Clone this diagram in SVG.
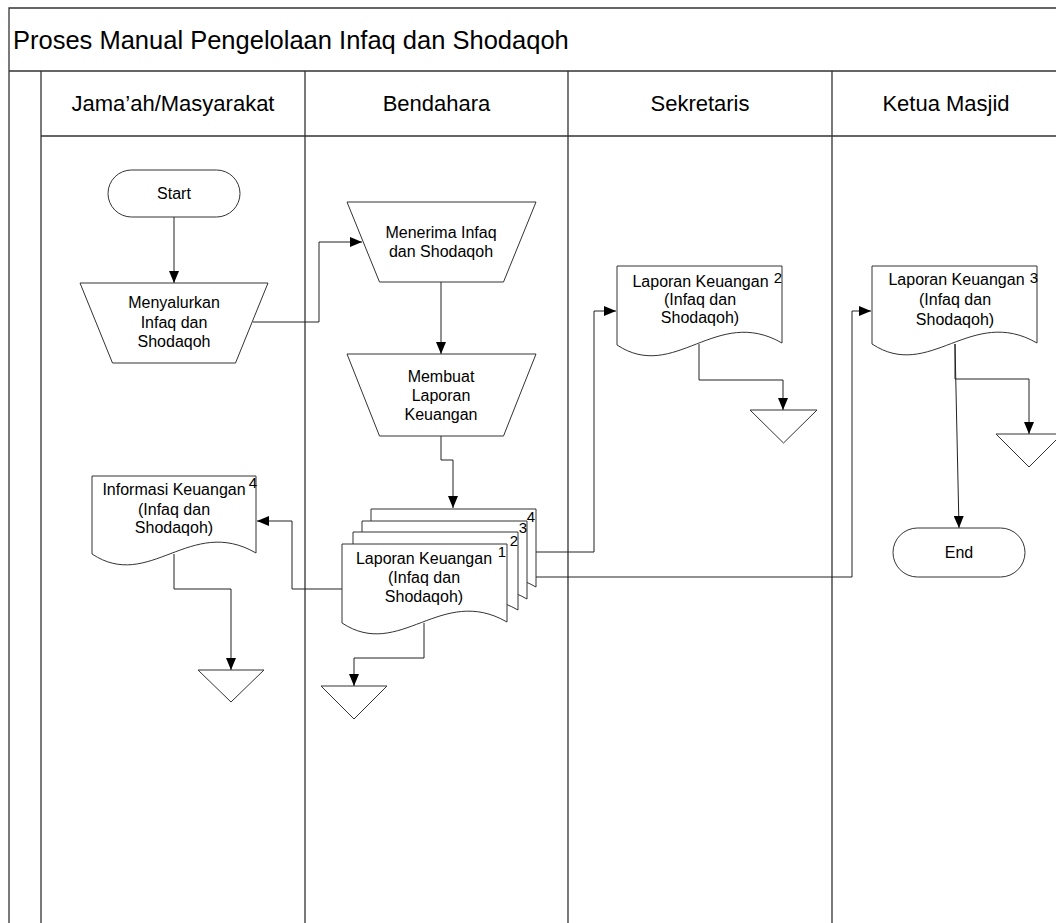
<svg xmlns="http://www.w3.org/2000/svg" width="1056" height="923" viewBox="0 0 1056 923">
<defs>
<style>
.frame{stroke:#333;stroke-width:1.3;fill:none}
.shape{stroke:#333;stroke-width:1;fill:#fff}
.conn{stroke:#222;stroke-width:1;fill:none}
text{font-family:"Liberation Sans",Arial,sans-serif;fill:#000}
.t{font-size:16px;text-anchor:middle}
.sup{font-size:15px;text-anchor:middle}
.hdr{font-size:22px;text-anchor:middle}
</style>
<marker id="arr" markerUnits="userSpaceOnUse" markerWidth="12" markerHeight="10" viewBox="0 0 12 10" refX="12" refY="5" orient="auto">
<path d="M0,0 L12,5 L0,10 Z" fill="#000"/>
</marker>
</defs>
<rect width="1056" height="923" fill="#fff"/>
<g id="frame">
<path class="frame" d="M9,923 V8 H1056 M9,71 H1056 M41,71 V923 M41,136 H1056 M305,71 V923 M568,71 V923 M832,71 V923"/>
<text x="13" y="49" font-size="25.5">Proses Manual Pengelolaan Infaq dan Shodaqoh</text>
<text class="hdr" x="173" y="111">Jama’ah/Masyarakat</text>
<text class="hdr" x="436.5" y="111">Bendahara</text>
<text class="hdr" x="700" y="111">Sekretaris</text>
<text class="hdr" x="946" y="111">Ketua Masjid</text>
</g>
<g id="connectors">
<path class="conn" d="M174,217 V283" marker-end="url(#arr)"/>
<path class="conn" d="M253,322 H319 V242 H362" marker-end="url(#arr)"/>
<path class="conn" d="M441,282 V354" marker-end="url(#arr)"/>
<path class="conn" d="M441,436 V460 H453 V508" marker-end="url(#arr)"/>
<path class="conn" d="M536,552 H594 V311 H616" marker-end="url(#arr)"/>
<path class="conn" d="M518,577 H852 V311 H871" marker-end="url(#arr)"/>
<path class="conn" d="M342,589 H292 V521 H257" marker-end="url(#arr)"/>
<path class="conn" d="M424,623 V658 H354 V686" marker-end="url(#arr)"/>
<path class="conn" d="M174,554 V589 H231 V670" marker-end="url(#arr)"/>
<path class="conn" d="M699,344 V380 H783 V410" marker-end="url(#arr)"/>
<path class="conn" d="M955,344 V379 H1029 V434" marker-end="url(#arr)"/>
<path class="conn" d="M955,344 L959,528" marker-end="url(#arr)"/>
</g>
<g id="start">
<rect class="shape" x="108" y="170" width="132" height="47" rx="23.5"/>
<text class="t" x="174" y="199">Start</text>
</g>
<g id="menyalurkan">
<path class="shape" d="M80,283 H268 L235.5,363 H112.5 Z"/>
<text class="t" x="174" y="308">Menyalurkan</text>
<text class="t" x="174" y="327.5">Infaq dan</text>
<text class="t" x="174" y="347">Shodaqoh</text>
</g>
<g id="menerima">
<path class="shape" d="M347,202 H536 L503.5,282 H379.5 Z"/>
<text class="t" x="441" y="238">Menerima Infaq</text>
<text class="t" x="441" y="257">dan Shodaqoh</text>
</g>
<g id="membuat">
<path class="shape" d="M347,354 H536 L503.5,436 H379.5 Z"/>
<text class="t" x="441" y="382">Membuat</text>
<text class="t" x="441" y="401">Laporan</text>
<text class="t" x="441" y="420">Keuangan</text>
</g>
<g id="laporan-stack">
<path class="shape" d="M371,509 H536 V587 C470,549 428.75,626 371,588 Z"/>
<path class="shape" d="M362,521 H527 V599 C461,561 419.75,638 362,600 Z"/>
<path class="shape" d="M353,532 H518 V610 C452,572 410.75,649 353,611 Z"/>
<path class="shape" d="M342,544 H507 V622 C441,584 399.75,661 342,623 Z"/>
<text class="sup" x="531" y="522">4</text>
<text class="sup" x="523" y="533">3</text>
<text class="sup" x="514" y="546">2</text>
<text class="sup" x="502" y="557">1</text>
<text class="t" x="424" y="564">Laporan Keuangan</text>
<text class="t" x="424" y="583">(Infaq dan</text>
<text class="t" x="424" y="602">Shodaqoh)</text>
</g>
<g id="informasi">
<path class="shape" d="M92,476 H256 V553 C190.4,515 149.4,592 92,554 Z"/>
<text class="t" x="174" y="495">Informasi Keuangan</text>
<text class="sup" x="253" y="488">4</text>
<text class="t" x="174" y="515">(Infaq dan</text>
<text class="t" x="174" y="533">Shodaqoh)</text>
</g>
<g id="laporan2">
<path class="shape" d="M617,266 H782 V343 C716,305 674.75,383 617,345 Z"/>
<text class="t" x="700.5" y="286.5">Laporan Keuangan</text>
<text class="sup" x="778" y="283">2</text>
<text class="t" x="700" y="305">(Infaq dan</text>
<text class="t" x="700" y="323">Shodaqoh)</text>
</g>
<g id="laporan3">
<path class="shape" d="M872,266 H1037 V343 C971,305 929.75,382 872,344 Z"/>
<text class="t" x="956.5" y="285">Laporan Keuangan</text>
<text class="sup" x="1034" y="283">3</text>
<text class="t" x="955" y="305">(Infaq dan</text>
<text class="t" x="955" y="325">Shodaqoh)</text>
</g>
<g id="end">
<rect class="shape" x="893" y="528" width="132" height="49" rx="24.5"/>
<text class="t" x="959" y="558">End</text>
</g>
<g id="storage-jamaah"><path class="shape" d="M198,670 H264 L231,702 Z"/></g>
<g id="storage-bendahara"><path class="shape" d="M321,686 H387 L354,719 Z"/></g>
<g id="storage-sekretaris"><path class="shape" d="M750,410 H817 L783.5,443 Z"/></g>
<g id="storage-ketua"><path class="shape" d="M996,434 H1062 L1029,467 Z"/></g>
</svg>
